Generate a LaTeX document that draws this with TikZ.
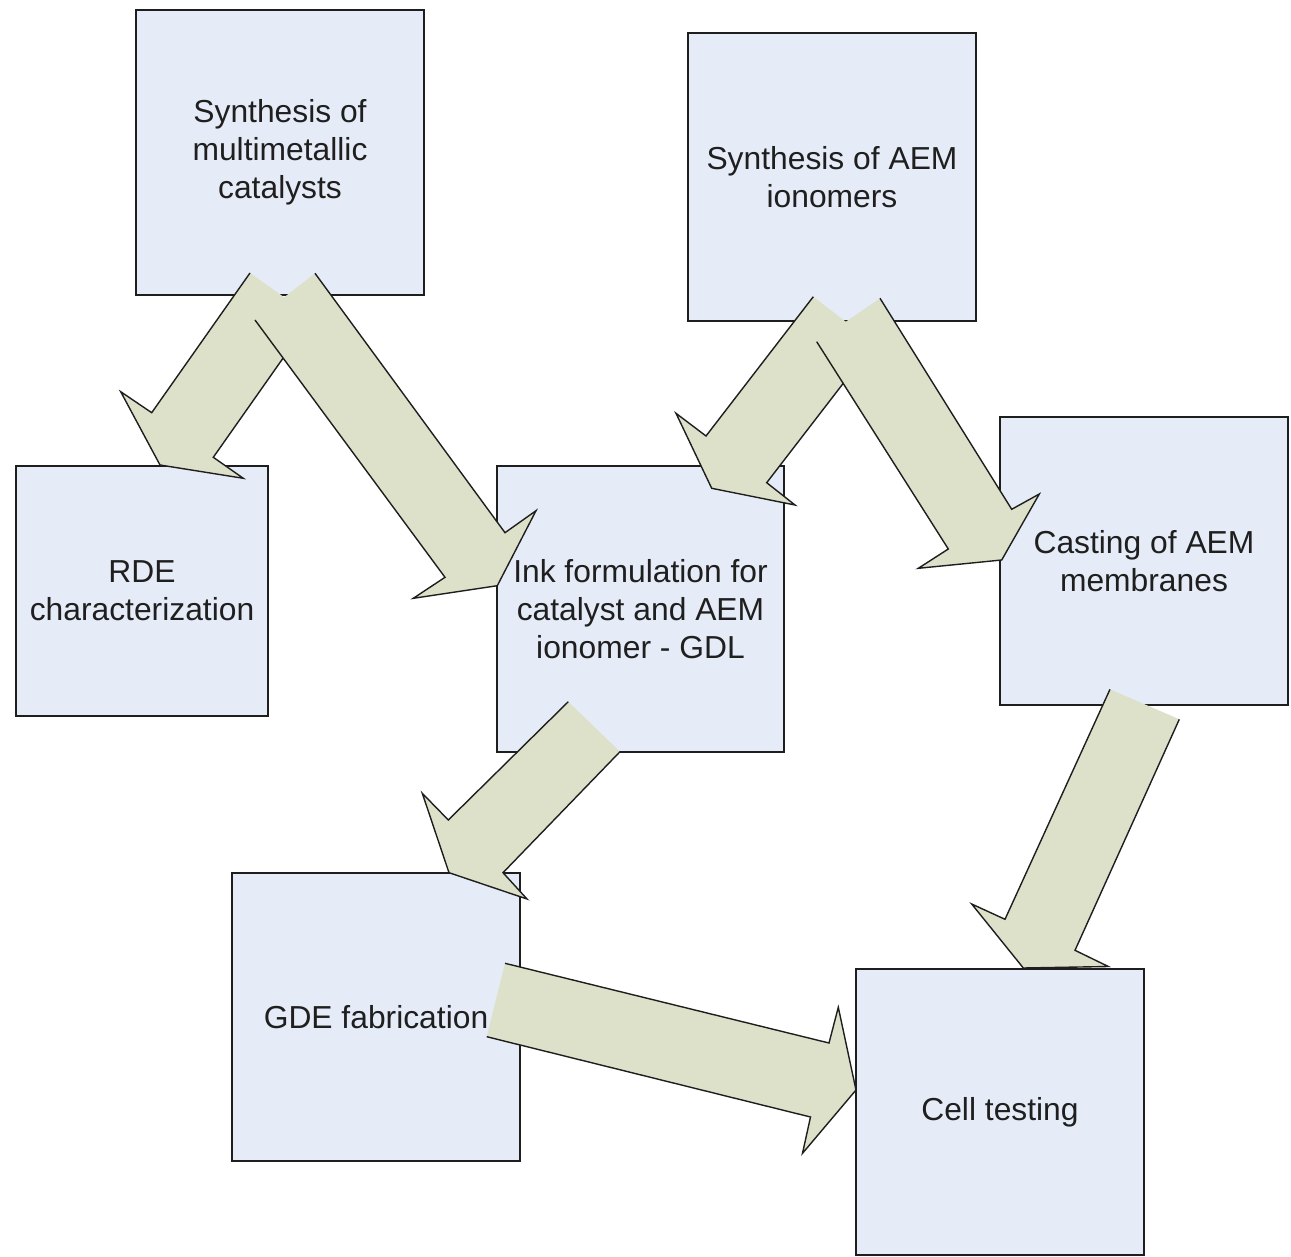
\documentclass[tikz,border=0pt]{standalone}
\usepackage{fontspec}
\setmainfont{Liberation Sans}
\definecolor{boxfill}{RGB}{230,236,247}
\definecolor{arrfill}{RGB}{221,225,201}
\definecolor{edge}{RGB}{30,30,30}
\tikzset{
  box/.style={draw=edge, line width=1.4pt, fill=boxfill, rectangle, inner sep=0pt, align=center,
    font=\fontsize{31.8}{38}\selectfont, text=black!88},
  arrfillstyle/.style={fill=arrfill},
  arrline/.style={draw=edge, line width=1.4pt, line join=miter}
}
\newcommand{\blockarrow}[7]{%
  \fill[arrfillstyle] #1 -- #2 -- #3 -- #4 -- #5 -- #6 -- #7 -- cycle;
  \draw[arrline] #1 -- #2 -- #3 -- #4 -- #5 -- #6 -- #7;}
\begin{document}
\begin{tikzpicture}[x=1pt,y=-1pt]
\useasboundingbox[fill=white] (0,0) rectangle (1291,1257);
% boxes
\node[box, minimum width=288pt, minimum height=285pt] (s1) at (280,152.5) {Synthesis of\\multimetallic\\catalysts};
\node[box, minimum width=288pt, minimum height=288pt] (s2) at (832,177) {Synthesis of AEM\\ionomers};
\node[box, minimum width=252pt, minimum height=250pt] (rde) at (142,591) {RDE\\characterization};
\node[box, minimum width=287pt, minimum height=286pt] (ink) at (640.5,609) {Ink formulation for\\catalyst and AEM\\ionomer - GDL};
\node[box, minimum width=288pt, minimum height=288pt] (cast) at (1144,561) {Casting of AEM\\membranes};
\node[box, minimum width=288pt, minimum height=288pt] (gde) at (376,1017) {GDE fabrication};
\node[box, minimum width=288pt, minimum height=286pt] (cell) at (1000,1112) {Cell testing};
% block arrows
\blockarrow{(250,273)}{(151.7,412.7)}{(120.7,391.7)}{(160,465)}{(243.3,478.3)}{(213.3,457.3)}{(312,317)}
\blockarrow{(255,320)}{(445,577.3)}{(413.3,598.3)}{(497.3,585.7)}{(536,510.7)}{(505,532.7)}{(315,273.3)}
\blockarrow{(813.3,296.7)}{(706,436)}{(676,413.3)}{(711.7,488.3)}{(795,505)}{(766.7,482.7)}{(874,343.4)}
\blockarrow{(816.7,341.7)}{(948.3,549)}{(918.3,568.3)}{(1001.7,560)}{(1039.3,494)}{(1011.7,509.3)}{(880,298.3)}
\blockarrow{(568.3,701.7)}{(448.3,820)}{(422.3,793.3)}{(449,872.7)}{(527,899)}{(503,872.7)}{(620,751.7)}
\blockarrow{(505,963.3)}{(829,1043)}{(838.3,1007.3)}{(856,1090)}{(802.5,1153.3)}{(810.5,1117)}{(486.7,1036.7)}
\blockarrow{(1110,689.3)}{(1005,919.3)}{(971.7,904)}{(1023.3,968)}{(1108.3,966.5)}{(1075,950.3)}{(1179.3,719.3)}
\end{tikzpicture}
\end{document}
